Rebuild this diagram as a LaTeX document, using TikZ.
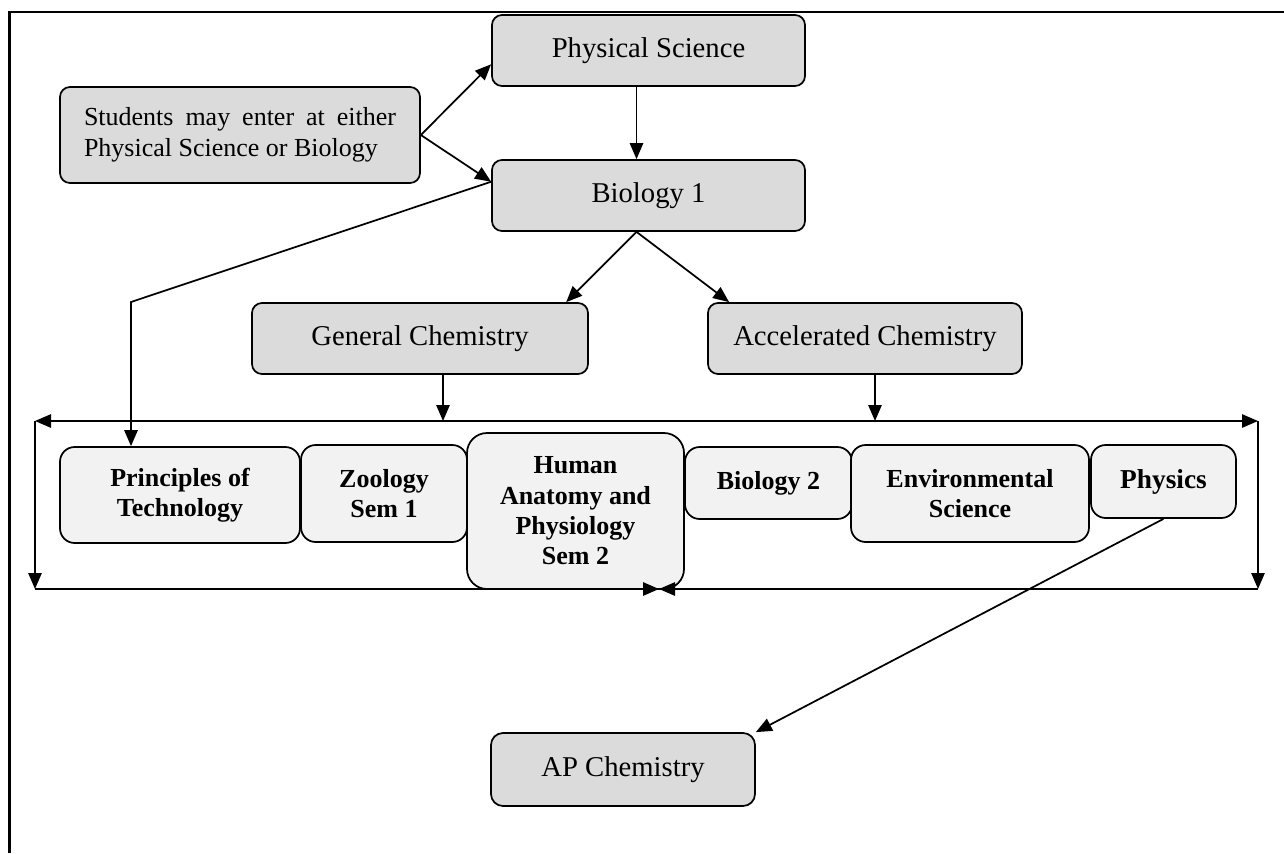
\documentclass[tikz,border=0pt]{standalone}
\usepackage{fontspec}
\setmainfont{Liberation Serif}
\usetikzlibrary{arrows.meta}

\begin{document}
\begin{tikzpicture}[x=0.75pt, y=-0.75pt, line width=1.3pt,
    >={Triangle[length=12pt,width=10pt]},
    course/.style={draw, rounded corners=7.5pt, fill=gray!28, inner sep=0pt,
        font=\fontsize{21.5}{24}\selectfont},
    option/.style={draw, rounded corners=11pt, fill=gray!10, inner sep=0pt,
        align=center, font=\fontsize{19.5}{22.7}\selectfont\bfseries}]
    \useasboundingbox (0,0) rectangle (1284,853);
    \draw[line width=1.8pt] (9.5,853) -- (9.5,12) -- (1284,12);

    % courses
    \node[course, minimum width=234.75pt, minimum height=53.25pt] (phys)
        at (648.5,50.5) {Physical Science};
    \node[course, minimum width=270pt, minimum height=72pt, text width=234pt,
        align=justify, font=\fontsize{19.5}{23}\selectfont] (stud) at (240,135)
        {Students may enter at either\linebreak Physical Science or Biology};
    \node[course, minimum width=234.75pt, minimum height=53.25pt] (bio1)
        at (648.5,195.5) {Biology 1};
    \node[course, minimum width=252pt, minimum height=53.25pt] (gen)
        at (420,338.5) {General Chemistry};
    \node[course, minimum width=235.5pt, minimum height=53.25pt] (acc)
        at (865,338.5) {Accelerated Chemistry};
    \node[course, minimum width=198pt, minimum height=54.75pt, rounded corners=9pt] (ap)
        at (623,769.5) {AP Chemistry};

    % electives
    \node[option, minimum width=180pt, minimum height=72pt] (tech)
        at (180,495) {Principles of\\Technology};
    \node[option, minimum width=124.5pt, minimum height=72.75pt] (zoo)
        at (384,493.5) {Zoology\\Sem 1};
    \node[option, minimum width=162.75pt, minimum height=117pt, rounded corners=15pt] (anat)
        at (575.5,511) {Human\\Anatomy and\\Physiology\\Sem 2};
    \node[option, minimum width=125.25pt, minimum height=54pt] (bio2)
        at (768.5,483) {Biology 2};
    \node[option, minimum width=178.5pt, minimum height=72.75pt] (env)
        at (970,493.5) {Environmental\\Science};
    \node[option, minimum width=108.75pt, minimum height=54.75pt,
        font=\fontsize{20.5}{24}\selectfont\bfseries] (phy)
        at (1163.5,481.5) {Physics};

    % bracket round the electives
    \coordinate (tl) at (35,421);
    \coordinate (tr) at (1258,421);
    \coordinate (bl) at (35,589);
    \coordinate (br) at (1258,589);
    \coordinate (meet) at (659,589);
    \coordinate (gdrop) at (443,421);
    \coordinate (adrop) at (875,421);
    \coordinate (bend) at (131,302);
    \draw[<->] (tl) -- (tr);
    \draw[->] (tl) -- (bl);
    \draw[->] (tr) -- (br);
    \draw[->] (bl) -- (meet);
    \draw[->] (br) -- (meet);

    \draw[->] (stud.east) -- (phys.185);
    \draw[->] (stud.east) -- (bio1.175);
    \draw[->] ([xshift=-9pt]phys.south) -- ([xshift=-9pt]bio1.north);
    \draw[->] ([xshift=-9pt]bio1.south) -- ([xshift=-17pt]gen.north east);
    \draw[->] ([xshift=-9pt]bio1.south) -- ([xshift=16.5pt]acc.north west);
    \draw[->] (gen.south -| gdrop) -- (gdrop);
    \draw[->] (acc.south -| adrop) -- (adrop);
    \draw[->] (bio1.175) -- (bend) -- (bend |- tech.north);
    \draw[->] (phy.south) -- (ap.north east);
\end{tikzpicture}
\end{document}
